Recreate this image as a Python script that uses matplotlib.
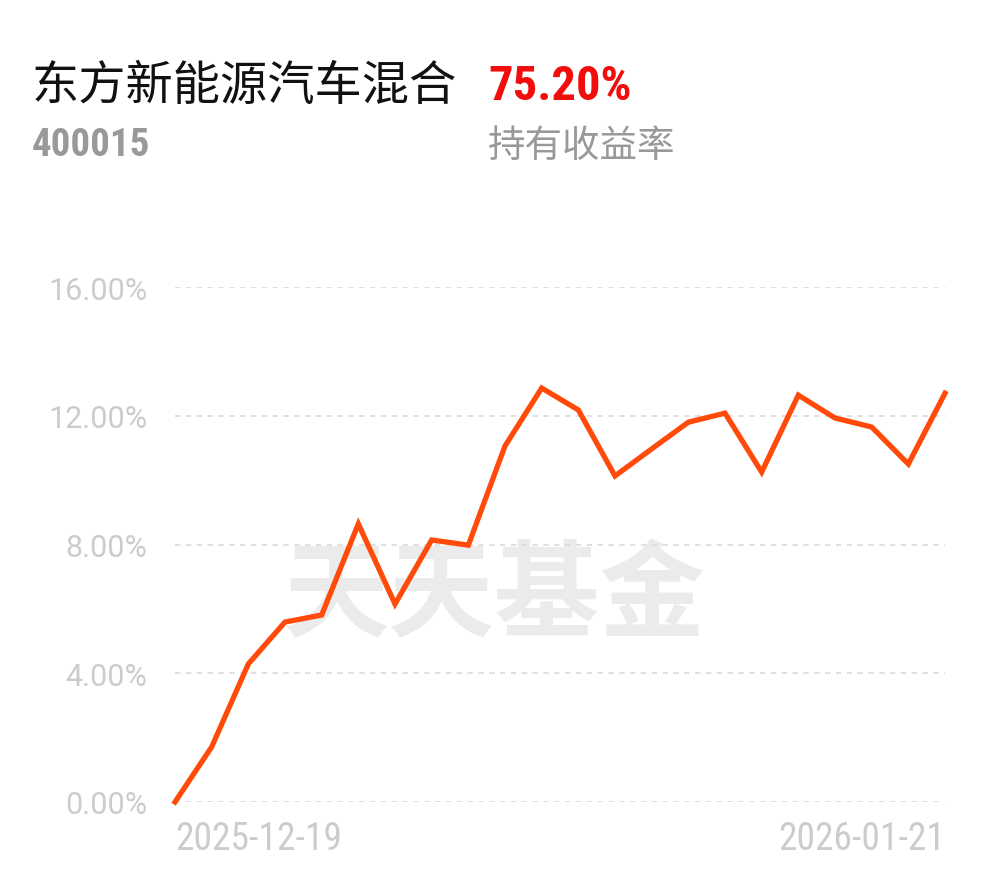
import matplotlib.pyplot as plt
from matplotlib import font_manager

plt.rcParams['font.family'] = ['Noto Sans CJK SC', 'DejaVu Sans']

fund_name = "东方新能源汽车混合"
fund_code = "400015"
hold_return = "75.20%"
hold_label = "持有收益率"
dates = ["2025-12-19", "2025-12-22", "2025-12-23", "2025-12-24", "2025-12-25",
         "2025-12-26", "2025-12-29", "2025-12-30", "2025-12-31", "2026-01-05",
         "2026-01-06", "2026-01-07", "2026-01-08", "2026-01-09", "2026-01-12",
         "2026-01-13", "2026-01-14", "2026-01-15", "2026-01-16", "2026-01-19",
         "2026-01-20", "2026-01-21"]
returns = [0.00, 1.71, 4.29, 5.59, 5.81, 8.64, 6.15, 8.14, 7.98, 11.06, 12.86,
           12.18, 10.13, 10.97, 11.80, 12.08, 10.25, 12.64, 11.93, 11.65, 10.50, 12.70]
yticks = [0, 4, 8, 12, 16]

# condensed face for the numbers, if one is around
names = {f.name for f in font_manager.fontManager.ttflist}
narrow = 'Roboto'
for cand in ['Roboto Condensed', 'Liberation Sans Narrow', 'DejaVu Sans Condensed']:
    if cand in names:
        narrow = cand
        break

fig = plt.figure(figsize=(9.9, 8.78), dpi=100)
ax = fig.add_axes([175 / 990, 75 / 878, 770 / 990, 515 / 878])

x = list(range(len(returns)))
ax.plot(x, returns, color='#ff4a0a', lw=3.8, solid_joinstyle='miter', zorder=3, clip_on=False)

ax.set_xlim(0, len(returns) - 1)
ax.set_ylim(0, 16)
ax.set_yticks(yticks)
ax.set_yticklabels([f"{v:.2f}%" for v in yticks], family='Roboto', fontsize=22, color='#cccccc')
ax.tick_params(axis='y', length=0, pad=20)
ax.set_xticks([])
for v in yticks:
    ax.axhline(v, color='#dddddd', lw=1.3, ls=(0, (3, 3)), zorder=1)
for s in ax.spines.values():
    s.set_visible(False)

# watermark
ax.text(0.4156, 0.398, "天天基金", transform=ax.transAxes, ha='center', va='center',
        fontsize=76, fontweight='black', color='#ebebeb', zorder=0)

# date labels
ax.text(0, -0.07, dates[0], transform=ax.transAxes, ha='left', va='center',
        family=narrow, fontsize=27, color='#cccccc')
ax.text(1, -0.07, dates[-1], transform=ax.transAxes, ha='right', va='center',
        family=narrow, fontsize=27, color='#cccccc')

# header
fig.text(32 / 990, 1 - 87 / 878, fund_name, ha='left', va='center', fontsize=34, color='#111111')
fig.text(488 / 990, 1 - 87 / 878, hold_return, ha='left', va='center', family=narrow,
         fontweight='bold', fontsize=35, color='#f20d0d')
fig.text(32 / 990, 1 - 145 / 878, fund_code, ha='left', va='center', family=narrow,
         fontweight='bold', fontsize=28, color='#999999')
fig.text(488 / 990, 1 - 147 / 878, hold_label, ha='left', va='center', fontsize=27, color='#999999')

fig.savefig('out.png', dpi=100, facecolor='white')
